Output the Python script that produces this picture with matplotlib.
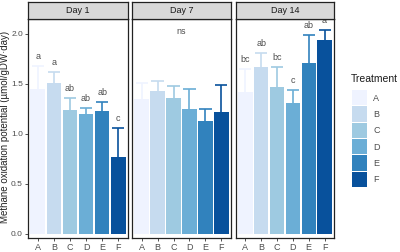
import matplotlib
matplotlib.use("Agg")
import matplotlib.pyplot as plt
from matplotlib.patches import Rectangle

plt.rcParams["font.family"] = ["Liberation Sans", "DejaVu Sans"]

treatments = ["A", "B", "C", "D", "E", "F"]
days = ["Day 1", "Day 7", "Day 14"]
means = {
    "Day 1": [1.45, 1.51, 1.24, 1.20, 1.23, 0.77],
    "Day 7": [1.35, 1.43, 1.36, 1.25, 1.12, 1.22],
    "Day 14": [1.42, 1.67, 1.47, 1.31, 1.71, 1.94],
}
upper = {
    "Day 1": [1.68, 1.62, 1.36, 1.26, 1.32, 1.06],
    "Day 7": [1.51, 1.53, 1.48, 1.45, 1.25, 1.49],
    "Day 14": [1.65, 1.81, 1.67, 1.44, 1.99, 2.04],
}
letters = {
    "Day 1": ["a", "a", "ab", "ab", "ab", "c"],
    "Day 7": None,
    "Day 14": ["bc", "ab", "bc", "c", "ab", "a"],
}
panel_note = {"Day 1": None, "Day 7": "ns", "Day 14": None}
colors = ["#EFF3FF", "#C6DBEF", "#9ECAE1", "#6BAED6", "#3182BD", "#08519C"]
yticks = [0.0, 0.5, 1.0, 1.5, 2.0]

fig = plt.figure(figsize=(4, 2.52), dpi=100)
W, H = 400, 252
panels_px = [(28, 128), (132, 231), (236, 334)]
top_px, bot_px, strip_top = 19, 237.5, 2
txtgray = "#4D4D4D"

for i, (day, (l, r)) in enumerate(zip(days, panels_px)):
    ax = fig.add_axes([l / W, 1 - bot_px / H, (r - l) / W, (bot_px - top_px) / H])
    x = range(len(treatments))
    ax.bar(x, means[day], width=0.9, color=colors, edgecolor="none", zorder=2)
    for xi, m, u, c in zip(x, means[day], upper[day], colors):
        ax.plot([xi, xi], [m, u], color=c, lw=1.2, zorder=3, solid_capstyle="butt")
        ax.plot([xi - 0.38, xi + 0.38], [u, u], color=c, lw=1.2, zorder=3, solid_capstyle="butt")
    if letters[day]:
        for xi, u, t in zip(x, upper[day], letters[day]):
            ax.text(xi, u + 0.09, t, ha="center", va="center", fontsize=6.5, color=txtgray)
    if panel_note[day]:
        ax.text(2.5, 2.02, panel_note[day], ha="center", va="center", fontsize=6.5, color=txtgray)
    ax.set_xlim(-0.6, 5.6)
    ax.set_ylim(-0.04, 2.145)
    ax.set_xticks(list(x))
    ax.set_xticklabels(treatments, fontsize=6.5, color=txtgray)
    ax.set_yticks(yticks)
    if i == 0:
        ax.set_yticklabels([f"{v:.1f}" for v in yticks], fontsize=6, color=txtgray)
    else:
        ax.tick_params(axis="y", left=False, labelleft=False)
    ax.tick_params(axis="both", length=2.5, width=0.6, color="#333333", pad=1.2)
    for s in ax.spines.values():
        s.set_linewidth(0.9)
        s.set_color("#222222")
    # strip
    sax = fig.add_axes([l / W, 1 - top_px / H, (r - l) / W, (top_px - strip_top) / H])
    sax.set_facecolor("#D9D9D9")
    sax.set_xticks([])
    sax.set_yticks([])
    for s in sax.spines.values():
        s.set_linewidth(0.9)
        s.set_color("#222222")
    sax.text(0.5, 0.5, day, ha="center", va="center", fontsize=6.5, color="#1A1A1A", transform=sax.transAxes)

fig.text(5.5 / W, 1 - 127 / H, "Methane oxidation potential (µmol/gDW·day)", rotation=90,
         fontsize=7, color="#222222", ha="center", va="center")

# legend
fig.text(351 / W, 1 - 79 / H, "Treatment", fontsize=7.5, color="#1A1A1A", ha="left", va="center")
key_top = 90
key_h = 16.3
for j, (t, c) in enumerate(zip(treatments, colors)):
    y0 = key_top + j * key_h
    fig.patches.append(Rectangle((352 / W, 1 - (y0 + key_h - 1) / H), 15 / W, (key_h - 1) / H,
                                 transform=fig.transFigure, facecolor=c, edgecolor="none"))
    fig.text(373 / W, 1 - (y0 + key_h / 2) / H, t, fontsize=6.5, color=txtgray, ha="left", va="center")

fig.savefig("out.png", dpi=100)
